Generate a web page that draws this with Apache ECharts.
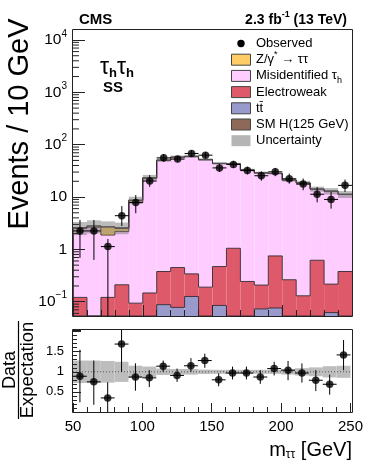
<!DOCTYPE html>
<html>
<head>
<meta charset="utf-8">
<script src="https://cdn.jsdelivr.net/npm/echarts@6/dist/echarts.min.js"></script>
<style>
html, body { margin: 0; padding: 0; background: #fff; }
#main { width: 366px; height: 463px; }
</style>
</head>
<body>
<div id="main"></div>
<script>
// bin edges in m_tautau (GeV)
var binEdges = [50, 60, 70, 80, 90, 100, 110, 120, 130, 140, 150, 160, 170, 180, 190, 200, 210, 220, 230, 240, 250];

// backgrounds per bin (events / 10 GeV), bottom of stack first
var ttVals    = [0, 0, 0, 0, 0, 0, 0.088, 0.078, 0.126, 0, 0.085, 0, 0, 0.073, 0.076, 0, 0, 0, 0.062, 0];
var ewVals    = [0.121, 0, 0.121, 0.211, 0.094, 0.147, 0.29, 0.372, 0.215, 0.19, 0.385, 1.05, 0.244, 0.135, 0.674, 0.263, 0.13, 0.62, 0.155, 0.378];
var misidVals = [2.38, 2.65, 1.76, 1.99, 7.7, 22.4, 49.7, 56.8, 59, 51.3, 43.1, 41.6, 32.5, 28.6, 27.4, 20.7, 18.4, 13.5, 12.7, 10.85];
var zttVals   = [0.1, 0.15, 0.8, 0.3, 0.8, 0.6, 0.5, 0.35, 0.3, 0.25, 0.2, 0.15, 0.15, 0.1, 0.1, 0.1, 0.08, 0.06, 0.05, 0.05];
var smhVals   = [0, 0, 0.02, 0.1, 0.2, 0.3, 0.4, 0.4, 0.35, 0.3, 0.25, 0.2, 0.15, 0.1, 0.08, 0.06, 0.05, 0.04, 0.03, 0.02];
// relative uncertainty of the expectation
var uncRel    = [0.28, 0.28, 0.27, 0.25, 0.15, 0.13, 0.08, 0.07, 0.07, 0.055, 0.05, 0.05, 0.05, 0.05, 0.05, 0.07, 0.09, 0.11, 0.14, 0.15];

// observed
var obsVals = [2.25, 2.25, 1.13, 4.4, 7.9, 20.2, 56, 53, 68, 63, 36, 42, 32, 25.5, 30.3, 22.3, 17.7, 11.3, 9.0, 16.7];
var obsHi   = [3.65, 3.65, 1.58, 6.7, 10.9, 26.2, 66, 61, 78, 72, 43, 49, 38, 31, 36, 28, 22.5, 15.5, 12.5, 21.5];
var obsLo   = [0.69, 0.63, 0, 2.8, 4.9, 15.7, 47, 46, 59, 55, 30, 36, 27, 20.5, 25, 18, 13.5, 7.9, 6, 12.5];

// data / expectation
var ratioVals = [0.89, 0.75, 0.35, 1.69, 0.87, 0.85, 1.14, 0.91, 1.15, 1.28, 0.80, 0.97, 0.97, 0.87, 1.08, 1.04, 0.97, 0.79, 0.69, 1.42];
var ratioHi   = [1.55, 1.28, 0.74, 2.1, 1.21, 1.04, 1.28, 1.08, 1.34, 1.45, 0.96, 1.13, 1.13, 1.04, 1.25, 1.27, 1.21, 1.04, 0.93, 1.79];
var ratioLo   = [0.24, 0.18, 0, 1.0, 0.53, 0.62, 1.0, 0.75, 1.0, 1.1, 0.64, 0.81, 0.81, 0.7, 0.91, 0.79, 0.73, 0.52, 0.43, 1.04];

var FONT = '"Liberation Sans", Arial, Helvetica, sans-serif';
var Y_MIN = 0.0534, Y_MAX = 15500;

var layers = [
    { vals: ttVals,    color: '#9999CC' },
    { vals: ewVals,    color: '#DE5A6A' },
    { vals: misidVals, color: '#FFCCFF' },
    { vals: zttVals,   color: '#FFCC66' },
    { vals: smhVals,   color: '#8E6858' }
];

// cumulative stack
var running = ttVals.map(function () { return 0; });
layers.forEach(function (L) {
    L.lo = running.slice();
    running = running.map(function (r, i) { return r + L.vals[i]; });
    L.hi = running.slice();
});
var totalVals = running;

function clampY(y, cs) { return Math.min(Math.max(y, cs.y), cs.y + cs.height); }

function fillSeries(L) {
    return {
        type: 'custom', xAxisIndex: 0, yAxisIndex: 0, z: 2, silent: true,
        encode: { x: [0, 1], y: [2, 3] },
        data: L.vals.map(function (v, i) {
            return [binEdges[i], binEdges[i + 1], Math.max(L.lo[i], Y_MIN), Math.max(L.hi[i], Y_MIN)];
        }),
        renderItem: function (params, api) {
            var lo = api.value(2), hi = api.value(3);
            if (hi <= lo) return;
            var cs = params.coordSys;
            var a = api.coord([api.value(0), hi]), b = api.coord([api.value(1), lo]);
            var y0 = clampY(a[1], cs), y1 = clampY(b[1], cs);
            return { type: 'rect', shape: { x: a[0], y: y0, width: b[0] - a[0], height: y1 - y0 }, style: { fill: L.color } };
        }
    };
}

function outlineSeries(L) {
    return {
        type: 'custom', xAxisIndex: 0, yAxisIndex: 0, z: 3, silent: true,
        encode: { x: [0, 1], y: [2, 3] },
        data: L.hi.map(function (h, i) {
            var prev = i === 0 ? Y_MIN : L.hi[i - 1];
            return [binEdges[i], binEdges[i + 1], Math.max(prev, Y_MIN * 0.9), Math.max(h, Y_MIN * 0.9)];
        }),
        renderItem: function (params, api) {
            var cs = params.coordSys;
            var p1 = api.coord([api.value(0), api.value(2)]);
            var p2 = api.coord([api.value(0), api.value(3)]);
            var p3 = api.coord([api.value(1), api.value(3)]);
            return {
                type: 'polyline',
                shape: { points: [[p1[0], clampY(p1[1], cs)], [p2[0], clampY(p2[1], cs)], [p3[0], clampY(p3[1], cs)]] },
                style: { stroke: 'rgba(50,40,45,0.9)', lineWidth: 1, fill: 'none' }
            };
        }
    };
}

function bandSeries(xi, yi, lo, hi, color, z) {
    return {
        type: 'custom', xAxisIndex: xi, yAxisIndex: yi, z: z, silent: true,
        encode: { x: [0, 1], y: [2, 3] },
        data: lo.map(function (v, i) { return [binEdges[i], binEdges[i + 1], v, hi[i]]; }),
        renderItem: function (params, api) {
            var cs = params.coordSys;
            var a = api.coord([api.value(0), api.value(3)]), b = api.coord([api.value(1), api.value(2)]);
            var y0 = clampY(a[1], cs), y1 = clampY(b[1], cs);
            return { type: 'rect', shape: { x: a[0], y: y0, width: b[0] - a[0], height: y1 - y0 }, style: { fill: color } };
        }
    };
}

function errorSeries(xi, yi, vals, lo, hi, floor) {
    return {
        type: 'custom', xAxisIndex: xi, yAxisIndex: yi, z: 6, silent: true,
        encode: { x: 0, y: [1, 2, 3] },
        data: vals.map(function (v, i) {
            return [(binEdges[i] + binEdges[i + 1]) / 2, v, Math.max(lo[i], floor), hi[i], binEdges[i], binEdges[i + 1]];
        }),
        renderItem: function (params, api) {
            var cs = params.coordSys;
            var c = api.coord([api.value(0), api.value(1)]);
            var l = api.coord([api.value(0), api.value(2)]);
            var h = api.coord([api.value(0), api.value(3)]);
            var x0 = api.coord([api.value(4), api.value(1)])[0];
            var x1 = api.coord([api.value(5), api.value(1)])[0];
            var st = { stroke: '#000', lineWidth: 1 };
            return {
                type: 'group',
                children: [
                    { type: 'line', shape: { x1: c[0], y1: clampY(l[1], cs), x2: c[0], y2: clampY(h[1], cs) }, style: st },
                    { type: 'line', shape: { x1: x0, y1: c[1], x2: x1, y2: c[1] }, style: st }
                ]
            };
        }
    };
}

// log minor tick positions on the main y axis
var minorLog = [];
for (var k = -2; k <= 4; k++) {
    for (var m = 2; m <= 9; m++) {
        var v = m * Math.pow(10, k);
        if (v > Y_MIN && v < Y_MAX) minorLog.push([50, v]);
    }
}

var centers = obsVals.map(function (v, i) { return (binEdges[i] + binEdges[i + 1]) / 2; });

var series = [];
layers.forEach(function (L) { series.push(fillSeries(L)); });
layers.forEach(function (L) { series.push(outlineSeries(L)); });
series.push(bandSeries(0, 0,
    totalVals.map(function (t, i) { return t * (1 - uncRel[i]); }),
    totalVals.map(function (t, i) { return t * (1 + uncRel[i]); }),
    'rgba(120,120,120,0.5)', 4));
series.push(errorSeries(0, 0, obsVals, obsLo, obsHi, Y_MIN * 0.5));
series.push({
    type: 'scatter', xAxisIndex: 0, yAxisIndex: 0, z: 7, silent: true,
    symbol: 'circle', symbolSize: 7.5, itemStyle: { color: '#000' },
    data: obsVals.map(function (v, i) { return [centers[i], v]; })
});
series.push({
    type: 'custom', xAxisIndex: 0, yAxisIndex: 0, z: 10, silent: true,
    data: minorLog,
    renderItem: function (params, api) {
        var p = api.coord([api.value(0), api.value(1)]);
        return { type: 'line', shape: { x1: p[0], y1: p[1], x2: p[0] + 6, y2: p[1] }, style: { stroke: '#222', lineWidth: 1 } };
    }
});
// ratio panel
series.push(bandSeries(1, 1,
    uncRel.map(function (u) { return 1 - u; }),
    uncRel.map(function (u) { return 1 + u; }),
    '#BDBDBD', 2));
series.push({
    type: 'line', xAxisIndex: 1, yAxisIndex: 1, z: 3, silent: true, symbol: 'none',
    lineStyle: { color: '#555', width: 1, type: [1, 2] },
    data: [[50, 1], [250, 1]]
});
series.push(errorSeries(1, 1, ratioVals, ratioLo, ratioHi, -0.5));
series.push({
    type: 'scatter', xAxisIndex: 1, yAxisIndex: 1, z: 7, silent: true,
    symbol: 'circle', symbolSize: 7.5, itemStyle: { color: '#000' },
    data: ratioVals.map(function (v, i) { return [centers[i], v]; })
});

var tickColor = '#222';

// legend rows
var legendRows = [
    { text: 'Observed', marker: 'dot' },
    { text: 'Z/γ{sup|*} → ττ', color: '#FFCC66' },
    { text: 'Misidentified τ{sub|h}', color: '#FFCCFF' },
    { text: 'Electroweak', color: '#DE5A6A' },
    { text: 'tt̄', color: '#9999CC' },
    { text: 'SM H(125 GeV)', color: '#8E6858' },
    { text: 'Uncertainty', color: '#B5B5B5', noBorder: true }
];
var legendGraphics = [];
legendRows.forEach(function (r, i) {
    var y = 43.5 + 16.2 * i;
    if (r.marker === 'dot') {
        legendGraphics.push({ type: 'circle', shape: { cx: 241, cy: y, r: 3.7 }, style: { fill: '#000' } });
    } else {
        legendGraphics.push({
            type: 'rect', shape: { x: 231.5, y: y - 5.5, width: 19, height: 11 },
            style: { fill: r.color, stroke: r.noBorder ? null : '#444', lineWidth: 1 }
        });
    }
    legendGraphics.push({
        type: 'text', x: 256, y: y,
        style: {
            text: r.text, fill: '#000', font: '13px ' + FONT, verticalAlign: 'middle', align: 'left',
            rich: {
                sup: { fontSize: 9, fontFamily: FONT, padding: [0, 0, 10, 0] },
                sub: { fontSize: 9, fontFamily: FONT, padding: [9, 0, 0, 0] }
            }
        }
    });
});

var option = {
    animation: false,
    backgroundColor: '#fff',
    grid: [
        { left: 73, top: 30, width: 279, height: 286 },
        { left: 73, top: 330, width: 279, height: 82 }
    ],
    xAxis: [
        {
            gridIndex: 0, type: 'value', min: 50, max: 250, interval: 50, z: 10,
            axisLine: { show: false },
            axisTick: { inside: true, length: 11, lineStyle: { color: tickColor } },
            minorTick: { show: true, splitNumber: 5, length: 6, lineStyle: { color: tickColor } },
            axisLabel: { show: false }, splitLine: { show: false }
        },
        {
            gridIndex: 1, type: 'value', min: 50, max: 250, interval: 50, z: 10,
            axisLine: { show: false },
            axisTick: { inside: true, length: 9, lineStyle: { color: tickColor } },
            minorTick: { show: true, splitNumber: 5, length: 5, lineStyle: { color: tickColor } },
            axisLabel: { show: true, fontSize: 15, fontFamily: FONT, color: '#000', margin: 7 },
            splitLine: { show: false }
        }
    ],
    yAxis: [
        {
            gridIndex: 0, type: 'log', logBase: 10, min: Y_MIN, max: Y_MAX, z: 10,
            axisLine: { show: false },
            axisTick: { inside: true, length: 12, lineStyle: { color: tickColor } },
            minorTick: { show: false }, splitLine: { show: false },
            axisLabel: {
                fontSize: 15.5, fontFamily: FONT, color: '#000', margin: 6,
                showMinLabel: false, showMaxLabel: false,
                formatter: function (v) {
                    var e = Math.round(Math.log10(v));
                    if (Math.abs(Math.log10(v) - e) > 1e-6) return '';
                    if (e === 0) return '1';
                    if (e === 1) return '10';
                    return '10{s|' + (e < 0 ? '−' + (-e) : e) + '}';
                },
                rich: { s: { fontSize: 10, fontFamily: FONT, color: '#000', padding: [0, 0, 12, 0] } }
            }
        },
        {
            gridIndex: 1, type: 'value', min: 0, max: 2.04, interval: 0.5, z: 10,
            axisLine: { show: false },
            axisTick: { inside: true, length: 8, lineStyle: { color: tickColor } },
            minorTick: { show: true, splitNumber: 5, length: 4, lineStyle: { color: tickColor } },
            splitLine: { show: false },
            axisLabel: {
                fontSize: 13, fontFamily: FONT, color: '#000', margin: 9,
                formatter: function (v) { return (v > 0.1 && v < 1.9) ? String(v) : ''; }
            }
        }
    ],
    graphic: [
        { type: 'rect', z: 100, shape: { x: 72.5, y: 29.5, width: 280, height: 287 }, style: { fill: 'none', stroke: '#222', lineWidth: 1 } },
        { type: 'rect', z: 100, shape: { x: 72.5, y: 329.5, width: 280, height: 83 }, style: { fill: 'none', stroke: '#222', lineWidth: 1 } },
        { type: 'text', z: 100, x: 79, y: 20, style: { text: 'CMS', font: 'bold 15px ' + FONT, fill: '#000', verticalAlign: 'middle' } },
        {
            type: 'text', z: 100, x: 347, y: 20,
            style: {
                text: '2.3 fb{s|-1} (13 TeV)', font: 'bold 14px ' + FONT, fill: '#000', align: 'right', verticalAlign: 'middle',
                rich: { s: { fontSize: 9, fontWeight: 'bold', fontFamily: FONT, padding: [0, 0, 10, 0] } }
            }
        },
        {
            type: 'text', z: 100, x: 100, y: 68,
            style: {
                text: 'τ{h|h}τ{h|h}', font: '23px ' + FONT, fill: '#000', verticalAlign: 'middle',
                rich: { h: { fontSize: 13, fontWeight: 'bold', fontFamily: FONT, padding: [11, 0, 0, 0] } }
            }
        },
        { type: 'text', z: 100, x: 103, y: 88, style: { text: 'SS', font: 'bold 15px ' + FONT, fill: '#000', verticalAlign: 'middle' } },
        {
            type: 'text', z: 100, x: 20, y: 124, rotation: Math.PI / 2,
            style: { text: 'Events / 10 GeV', font: '29px ' + FONT, fill: '#000', align: 'center', verticalAlign: 'middle' }
        },
        {
            type: 'text', z: 100, x: 10, y: 370, rotation: Math.PI / 2,
            style: { text: 'Data', font: '18px ' + FONT, fill: '#000', align: 'center', verticalAlign: 'middle' }
        },
        { type: 'line', z: 100, shape: { x1: 18.5, y1: 321, x2: 18.5, y2: 419 }, style: { stroke: '#000', lineWidth: 1.2 } },
        {
            type: 'text', z: 100, x: 27.5, y: 370, rotation: Math.PI / 2,
            style: { text: 'Expectation', font: '18.5px ' + FONT, fill: '#000', align: 'center', verticalAlign: 'middle' }
        },
        {
            type: 'text', z: 100, x: 352, y: 450,
            style: {
                text: 'm{sub|ττ} [GeV]', font: '20px ' + FONT, fill: '#000', align: 'right', verticalAlign: 'middle',
                rich: { sub: { fontSize: 12, fontFamily: FONT, padding: [10, 0, 0, 0] } }
            }
        }
    ].concat(legendGraphics.map(function (g) { g.z = 100; return g; })),
    series: series
};

var myChart = echarts.init(document.getElementById('main'));
myChart.setOption(option);
</script>
</body>
</html>
